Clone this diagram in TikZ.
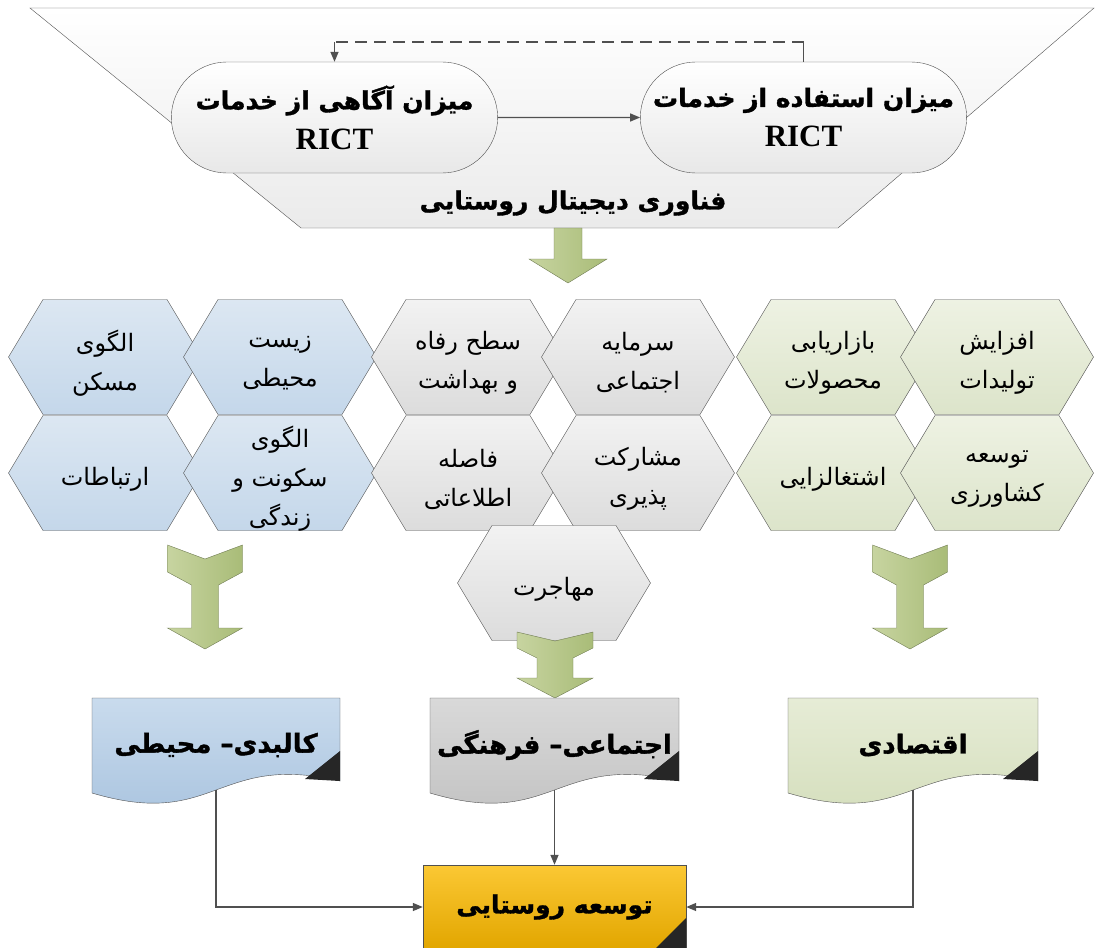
\documentclass[tikz,border=0pt]{standalone}
\usepackage{fontspec}
\setmainfont{Liberation Serif}
\newfontfamily\fafont[Script=Arabic, BoldFeatures={FakeBold=1.3}]{DejaVu Sans}
\TeXXeTstate=1
\newcommand\fa[1]{{\fafont\beginR #1\endR}}
\usetikzlibrary{shapes.misc,arrows.meta}

\definecolor{lineGray}{HTML}{505050}
\definecolor{hexBlueT}{HTML}{DCE7F2}
\definecolor{hexBlueB}{HTML}{C4D7EA}
\definecolor{hexGrayT}{HTML}{F2F2F2}
\definecolor{hexGrayB}{HTML}{DCDCDC}
\definecolor{hexGreenT}{HTML}{EEF2E3}
\definecolor{hexGreenB}{HTML}{DCE4CA}
\definecolor{arrowL}{HTML}{C7D4A0}
\definecolor{arrowR}{HTML}{A9BC78}
\definecolor{arrowEdge}{HTML}{6F7B52}
\definecolor{docBlueT}{HTML}{C9DBED}
\definecolor{docBlueB}{HTML}{A7C2DE}
\definecolor{docGrayT}{HTML}{D9D9D9}
\definecolor{docGrayB}{HTML}{C0C0C0}
\definecolor{docGreenT}{HTML}{E6ECD6}
\definecolor{docGreenB}{HTML}{D3DDBA}
\definecolor{ruralT}{HTML}{FBC834}
\definecolor{ruralB}{HTML}{E2A600}

\begin{document}
\begin{tikzpicture}[x=1pt,y=-1pt]
	\tikzset{pill/.style = {shape=rounded rectangle, draw=lineGray, top color=white, bottom color=black!9, minimum width=333pt, minimum height=111pt, align=center, font=\fontsize{25}{40}\selectfont\bfseries}}
	\tikzset{hexblue/.style = {draw=lineGray, top color=hexBlueT, bottom color=hexBlueB}}
	\tikzset{hexgray/.style = {draw=lineGray, top color=hexGrayT, bottom color=hexGrayB}}
	\tikzset{hexgreen/.style = {draw=lineGray, top color=hexGreenT, bottom color=hexGreenB}}
	\tikzset{hexlabel/.style = {align=center, inner sep=0pt, yshift=-6pt, font=\fontsize{24}{39}\selectfont}}
	\tikzset{greenarrow/.style = {draw=arrowEdge, left color=arrowL, right color=arrowR}}
	\tikzset{doclabel/.style = {inner sep=0pt, font=\fontsize{26}{34}\selectfont\bfseries}}
	\tikzset{link/.style = {draw=lineGray, line width=1.4pt, -{Triangle[length=10pt,width=8pt]}}}
	\useasboundingbox (0,0) rectangle (1099,947);
	\clip (0,0) rectangle (1099,947);
	% digital technology funnel
	\path[draw=lineGray, top color=white, bottom color=black!8] (30,8) -- (1094,8) -- (838,228) -- (301,228) -- cycle;
	\node[font=\fontsize{25}{28}\selectfont\bfseries] (digital) at (573,203) {\fa{فناوری دیجیتال روستایی}};
	\path[greenarrow] (554,228) -- (582,228) -- (582,259) -- (607,259) -- (568,283) -- (529,259) -- (554,259) -- cycle;
	\node[pill] (aware) at (334.5,117.5) {\fa{میزان آگاهی از خدمات}\\{\fontsize{31}{40}\selectfont RICT}};
	\node[pill] (usage) at (803.5,117.5) {\fa{میزان استفاده از خدمات}\\{\fontsize{31}{40}\selectfont RICT}};
	\draw[link] (aware) -- (usage);
	\draw[draw=lineGray, line width=1.4pt] (usage.north) -- ++(0,-20) coordinate (fbA);
	\draw[draw=lineGray, line width=1.8pt, dash pattern=on 12pt off 7pt] (fbA) -- (fbA -| aware.north) coordinate (fbB);
	\draw[link] (fbB) -- (aware.north);
	% hexagons
	\foreach \nm/\cx/\cy/\kind/\txt in {
		maskan/105/357/hexblue/{\fa{الگوی}\\\fa{مسکن}},
		zist/280/357/hexblue/{\fa{زیست}\\\fa{محیطی}},
		refah/468/357/hexgray/{\fa{سطح رفاه}\\\fa{و بهداشت}},
		sarmaye/638/357/hexgray/{\fa{سرمایه}\\\fa{اجتماعی}},
		bazar/833/357/hexgreen/{\fa{بازاریابی}\\\fa{محصولات}},
		tolid/997/357/hexgreen/{\fa{افزایش}\\\fa{تولیدات}},
		ertebat/105/473/hexblue/{\fa{ارتباطات}},
		sokunat/280/473/hexblue/{\fa{الگوی}\\\fa{سکونت و}\\\fa{زندگی}},
		fasele/468/473/hexgray/{\fa{فاصله}\\\fa{اطلاعاتی}},
		mosharekat/638/473/hexgray/{\fa{مشارکت}\\\fa{پذیری}},
		eshteghal/833/473/hexgreen/{\fa{اشتغالزایی}},
		keshavarzi/997/473/hexgreen/{\fa{توسعه}\\\fa{کشاورزی}},
		mohajerat/554/583/hexgray/{\fa{مهاجرت}}}{
		\path[\kind] (\cx,\cy) ++(-96.5,0) -- ++(34.5,-57.5) -- ++(124,0) -- ++(34.5,57.5) -- ++(-34.5,57.5) -- ++(-124,0) -- cycle;
		\node[hexlabel] (\nm) at (\cx,\cy) {\txt};
	}
	% block arrows
	\foreach \cx in {205,910}{
		\path[greenarrow] (\cx,559) -- ++(37.5,-14) -- ++(0,27) -- ++(-24,13) -- ++(0,43) -- ++(24,0) -- ++(-37.5,21) -- ++(-37.5,-21) -- ++(24,0) -- ++(0,-43) -- ++(-24,-13) -- ++(0,-27) -- cycle;
	}
	\path[greenarrow] (555,641) -- ++(38,-9) -- ++(0,16) -- ++(-20,10) -- ++(0,20) -- ++(20,0) -- ++(-38,20) -- ++(-38,-20) -- ++(20,0) -- ++(0,-20) -- ++(-20,-10) -- ++(0,-16) -- cycle;
	% dimension boxes
	\foreach \nm/\lx/\rx/\ct/\cb/\txt in {
		kalbadi/92/340/docBlueT/docBlueB/{کالبدی– محیطی},
		ejtemaei/430/679/docGrayT/docGrayB/{اجتماعی– فرهنگی},
		eghtesadi/788/1038/docGreenT/docGreenB/{اقتصادی}}{
		\path[draw=lineGray, top color=\ct, bottom color=\cb] (\lx,698) -- (\rx,698) -- (\rx,781) .. controls (\rx-124,752) and (\lx+124,830) .. (\lx,793) -- cycle;
		\fill[black!85] (\rx,751) -- (\rx,781) -- (\rx-35,779) -- cycle;
		\node[doclabel] (\nm) at ({(\lx+\rx)/2},745) {\fa{\txt}};
		\coordinate (\nm Out) at ({(\lx+\rx)/2},790);
	}
	\node[draw=lineGray, top color=ruralT, bottom color=ruralB, minimum width=263pt, minimum height=84pt, font=\fontsize{25}{34}\selectfont\bfseries] (rural) at (554.5,907) {\fa{توسعه روستایی}};
	\fill[black!85] (686,918) -- (686,950) -- (654,950) -- cycle;
	\draw[link] (kalbadiOut) |- (rural);
	\draw[link] (ejtemaeiOut) -- (rural);
	\draw[link] (eghtesadiOut) |- (rural);
\end{tikzpicture}
\end{document}
